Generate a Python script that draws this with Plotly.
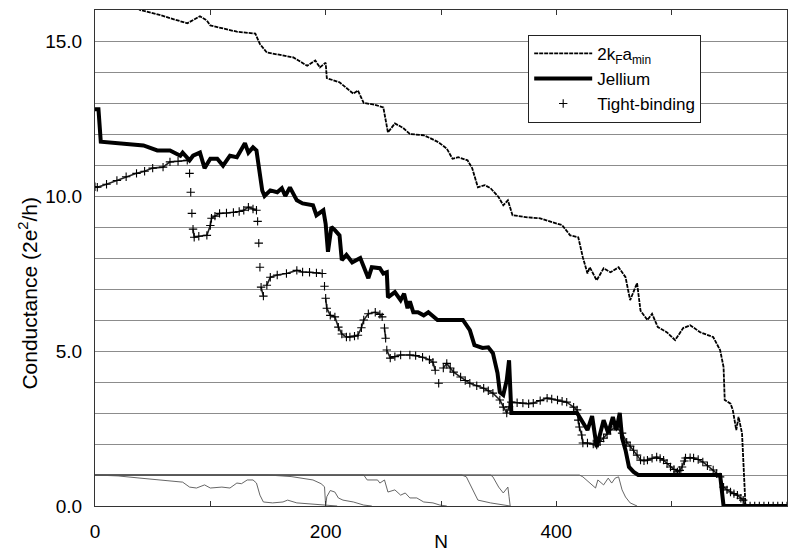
import plotly.graph_objects as go

# ---- data ----
kfa_n = [30, 39, 56, 68, 80, 91, 97, 100, 110, 123, 139, 143, 149, 160, 172, 184, 191, 195, 200, 201,
         212, 224, 228, 233, 242, 250, 254, 260, 267, 273, 285, 291, 298, 305, 310, 315, 323, 327, 332,
         338, 343, 350, 354, 358, 362, 375, 386, 397, 405, 412, 419, 423, 427, 429, 435, 441, 447, 454,
         460, 464, 470, 473, 479, 483, 488, 496, 503, 510, 516, 525, 536, 542, 545, 546, 551, 553, 556,
         558, 561, 564, 600]
kfa_g = [16.25, 16.0, 15.84, 15.7, 15.57, 15.8, 15.66, 15.5, 15.42, 15.3, 15.24, 14.9, 14.63, 14.55,
         14.47, 14.2, 14.37, 14.15, 14.3, 13.8, 13.67, 13.3, 13.4, 13.0, 12.95, 12.86, 12.05, 12.34, 12.2,
         12.0, 11.96, 11.86, 11.73, 11.53, 11.2, 11.25, 11.15, 10.9, 10.28, 10.35, 10.25, 9.96, 9.7, 9.86,
         9.38, 9.31, 9.28, 9.15, 9.06, 8.73, 8.67, 8.02, 7.5, 7.7, 7.28, 7.67, 7.54, 7.7, 7.38, 6.64, 7.19,
         6.3, 6.0, 6.2, 5.77, 5.6, 5.35, 5.74, 5.83, 5.6, 5.45, 5.03, 4.48, 3.42, 3.3, 3.1, 2.45, 2.87,
         2.35, 0.0, 0.0]

jel_n = [0, 3, 5, 24, 42, 54, 65, 74, 76, 82, 85, 91, 95, 100, 106, 111, 117, 123, 130, 133, 137, 140,
         143, 145, 147, 152, 158, 162, 165, 169, 175, 180, 189, 192, 198, 200, 202, 205, 208, 212, 214,
         218, 223, 230, 237, 240, 247, 250, 253, 254, 260, 265, 268, 271, 273, 276, 280, 285, 289, 297,
         319, 325, 329, 336, 341, 345, 349, 351, 354, 357, 359, 361, 418, 427, 431, 435, 441, 445, 449,
         452, 455, 457, 460, 463, 467, 471, 542, 545, 600]
jel_g = [12.8, 12.8, 11.75, 11.7, 11.63, 11.47, 11.47, 11.3, 11.4, 11.15, 11.3, 11.4, 10.9, 11.2, 11.2,
         10.98, 11.3, 11.25, 11.7, 11.4, 11.57, 11.47, 10.8, 10.18, 10.0, 10.18, 10.12, 10.25, 10.0,
         10.28, 9.86, 9.76, 9.7, 9.38, 9.54, 9.1, 8.2, 9.0, 8.9, 8.73, 7.93, 8.1, 7.86, 8.0, 7.35, 7.7,
         7.67, 7.5, 7.54, 6.73, 6.9, 6.64, 6.85, 6.38, 6.6, 6.25, 6.25, 6.15, 6.25, 6.0, 6.0, 5.67, 5.19,
         5.1, 5.12, 4.93, 4.29, 3.67, 3.58, 4.06, 4.7, 3.0, 3.0, 2.45, 2.9, 1.9, 2.77, 2.35, 2.87, 2.45,
         3.0, 2.2, 1.8, 1.26, 1.1, 1.0, 1.0, 0.0, 0.0]

tb_n = [0, 2, 10, 19, 27, 36, 43, 50, 59, 65, 72, 80, 82, 83, 84, 85, 86, 90, 97, 100, 101, 104, 108,
        114, 120, 125, 129, 133, 137, 140, 141, 142, 143, 144, 146, 149, 152, 158, 166, 175, 180, 186,
        192, 197, 199, 200, 201, 204, 208, 211, 214, 218, 221, 225, 228, 231, 233, 237, 243, 247, 249,
        251, 252, 253, 256, 260, 265, 273, 278, 284, 290, 293, 295, 298, 302, 305, 308, 311, 317, 321,
        325, 331, 337, 341, 345, 351, 354, 357, 359, 361, 366, 371, 376, 380, 386, 392, 396, 401, 405,
        409, 415, 418, 419, 420, 422, 423, 427, 432, 435, 438, 441, 444, 447, 452, 457, 461, 464, 467,
        470, 473, 476, 479, 483, 487, 490, 493, 496, 499, 502, 505, 507, 509, 511, 512, 516, 519, 523,
        527, 531, 536, 539, 542, 545, 548, 551, 554, 557, 560, 562, 564, 568, 572, 576, 580, 584, 588,
        592, 596, 600]
tb_g = [10.3, 10.28, 10.38, 10.5, 10.62, 10.73, 10.8, 10.9, 10.93, 11.1, 11.12, 11.15, 10.73, 10.12,
        9.44, 8.93, 8.67, 8.7, 8.73, 9.05, 9.28, 9.35, 9.44, 9.45, 9.47, 9.5, 9.54, 9.64, 9.58, 9.54,
        9.18, 8.48, 7.7, 7.06, 6.77, 7.12, 7.38, 7.45, 7.5, 7.6, 7.55, 7.54, 7.52, 7.5, 7.09, 6.7, 6.38,
        6.15, 6.1, 5.77, 5.55, 5.45, 5.45, 5.48, 5.51, 5.75, 6.0, 6.2, 6.25, 6.18, 6.1, 5.74, 5.41, 5.03,
        4.77, 4.82, 4.87, 4.87, 4.85, 4.8, 4.72, 4.64, 4.38, 3.96, 4.45, 4.6, 4.45, 4.32, 4.16, 4.05,
        3.96, 3.88, 3.8, 3.72, 3.64, 3.42, 3.19, 3.0, 3.2, 3.35, 3.33, 3.32, 3.3, 3.32, 3.4, 3.48, 3.45,
        3.42, 3.38, 3.35, 3.19, 3.1, 2.77, 2.55, 2.29, 2.03, 2.03, 2.0, 1.97, 2.08, 2.19, 2.32, 2.45,
        2.55, 2.35, 2.06, 1.93, 1.8, 1.64, 1.48, 1.46, 1.48, 1.54, 1.58, 1.53, 1.48, 1.37, 1.26, 1.18,
        1.1, 1.15, 1.26, 1.45, 1.55, 1.56, 1.55, 1.5, 1.42, 1.3, 1.16, 1.05, 0.94, 0.61, 0.52, 0.45,
        0.4, 0.35, 0.25, 0.19, 0.0, 0.0, 0.0, 0.0, 0.0, 0.0, 0.0, 0.0, 0.0, 0.0]

# thin unlabeled curves near the bottom (single channels)
ch1_n = [0, 20, 39, 60, 76, 82, 88, 95, 100, 110, 117, 123, 127, 132, 137, 140, 143, 146, 154, 163,
         167, 175, 190, 198, 210]
ch1_g = [1.0, 0.97, 0.9, 0.83, 0.77, 0.61, 0.58, 0.68, 0.58, 0.61, 0.58, 0.74, 0.72, 0.84, 0.84, 0.74,
         0.35, 0.13, 0.1, 0.13, 0.19, 0.1, 0.05, 0.03, 0.0]
ch2_n = [0, 150, 170, 189, 196, 199, 200, 201, 204, 208, 211, 215, 224, 233, 240]
ch2_g = [1.0, 1.0, 0.95, 0.84, 0.72, 0.62, 0.0, 0.3, 0.5, 0.45, 0.26, 0.19, 0.13, 0.03, 0.0]
ch3_n = [0, 233, 236, 245, 247, 251, 254, 260, 265, 269, 273, 279, 285, 293, 299, 305]
ch3_g = [1.0, 1.0, 0.84, 0.84, 0.74, 0.84, 0.45, 0.52, 0.35, 0.42, 0.26, 0.26, 0.13, 0.1, 0.03, 0.0]
ch4_n = [0, 318, 322, 328, 332, 343, 352, 360]
ch4_g = [1.0, 1.0, 0.94, 0.52, 0.19, 0.1, 0.05, 0.0]
ch5_n = [0, 343, 345, 350, 354, 358, 359, 360]
ch5_g = [1.0, 1.0, 0.94, 0.61, 0.42, 0.61, 0.3, 0.0]
ch6_n = [0, 420, 423, 429, 434, 436, 441, 445, 448, 451, 454, 457, 460, 464, 470]
ch6_g = [1.0, 1.0, 0.94, 0.74, 0.58, 0.84, 0.68, 0.9, 0.74, 0.9, 0.94, 0.52, 0.29, 0.1, 0.0]

x_ticks = [0, 200, 400, 600]
y_ticks = [0, 5, 10, 15]
y_title = "Conductance (2e<sup>2</sup>/h)"

FONT = "Liberation Sans, Arial, Helvetica, sans-serif"
GRID = "#8c8c8c"
AX = "#333333"

fig = go.Figure()

for cn, cg in [(ch1_n, ch1_g), (ch2_n, ch2_g), (ch3_n, ch3_g), (ch4_n, ch4_g), (ch5_n, ch5_g), (ch6_n, ch6_g)]:
    fig.add_trace(go.Scatter(x=cn, y=cg, mode="lines", showlegend=False, hoverinfo="skip",
                             line=dict(color="#555555", width=0.9)))

# connecting band for the tight-binding markers (broken at big jumps)
band_x, band_y = [], []
for i in range(len(tb_n)):
    if i > 0 and abs(tb_g[i] - tb_g[i - 1]) > 0.35:
        band_x.append(None)
        band_y.append(None)
    band_x.append(tb_n[i])
    band_y.append(tb_g[i])
fig.add_trace(go.Scatter(x=band_x, y=band_y, mode="lines", showlegend=False, hoverinfo="skip",
                         connectgaps=False, line=dict(color="#222222", width=1.6)))

fig.add_trace(go.Scatter(x=kfa_n, y=kfa_g, mode="lines", name="2k<sub>F</sub>a<sub>min</sub>",
                         line=dict(color="black", width=1.8, dash="4px,1px")))
fig.add_trace(go.Scatter(x=jel_n, y=jel_g, mode="lines", name="Jellium",
                         line=dict(color="black", width=4)))
fig.add_trace(go.Scatter(x=tb_n, y=tb_g, mode="markers", name="Tight-binding",
                         marker=dict(symbol="cross-thin", size=6, color="black",
                                     line=dict(color="black", width=1.1))))

fig.update_layout(
    width=802, height=552,
    margin=dict(l=95, r=15, t=10, b=46),
    paper_bgcolor="white", plot_bgcolor="white",
    font=dict(family=FONT, color="black", size=17),
    legend=dict(x=0.626, y=0.95, xanchor="left", yanchor="top",
                bgcolor="white", bordercolor="#222222", borderwidth=1,
                font=dict(size=17, family=FONT), itemwidth=58, tracegroupgap=0),
    showlegend=True,
    annotations=[dict(text=y_title, textangle=-90, xref="paper", yref="paper",
                      x=-0.097, y=0.43, xanchor="center", yanchor="middle", showarrow=False,
                      font=dict(size=21, family=FONT, color="black"))],
)
fig.update_xaxes(
    range=[0, 600], tickvals=x_ticks, ticks="inside", ticklen=5, tickcolor=AX,
    showline=True, linecolor=AX, linewidth=1, mirror="ticks",
    showgrid=False, zeroline=False, automargin=False,
    minor=dict(dtick=100, ticks="inside", ticklen=5, tickcolor=AX, showgrid=False),
    tickfont=dict(size=19, family=FONT), ticklabelstandoff=8,
    title=dict(text="N", font=dict(size=19, family=FONT), standoff=6),
)
fig.update_yaxes(
    range=[0, 16], tickvals=y_ticks, tickformat=".1f", ticks="",
    showline=True, linecolor=AX, linewidth=1, mirror=True,
    showgrid=True, gridcolor=GRID, gridwidth=1, zeroline=False, automargin=False,
    minor=dict(dtick=1, showgrid=True, gridcolor=GRID, gridwidth=1, ticks=""),
    tickfont=dict(size=19, family=FONT), ticklabelstandoff=8,
)

fig.write_html("out.html")
